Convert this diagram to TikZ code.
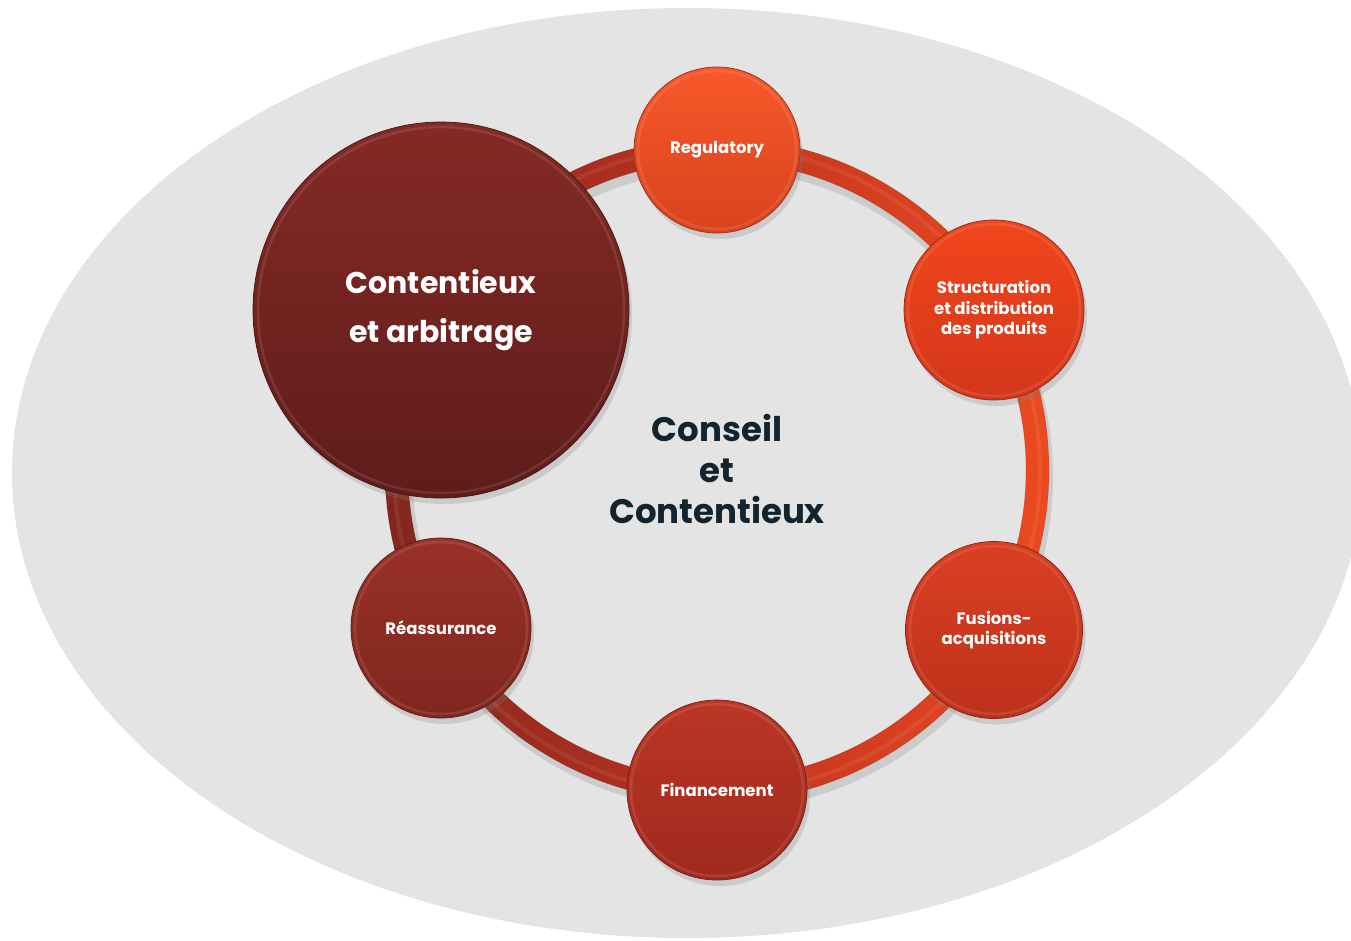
\documentclass[tikz,border=0pt]{standalone}
\usepackage{fontspec}
\setmainfont{Poppins}
\usetikzlibrary{shadows}
\definecolor{bg}{HTML}{E4E4E4}
\definecolor{ringL}{HTML}{82261F}
\definecolor{ringM}{HTML}{C0331F}
\definecolor{ringR}{HTML}{EC4A20}
\definecolor{regT}{HTML}{F8582A}
\definecolor{regB}{HTML}{D8431E}
\definecolor{strT}{HTML}{F2461C}
\definecolor{strB}{HTML}{D3361A}
\definecolor{fusT}{HTML}{DA3F22}
\definecolor{fusB}{HTML}{BD311C}
\definecolor{finT}{HTML}{BB3625}
\definecolor{finB}{HTML}{A0291E}
\definecolor{reaT}{HTML}{993127}
\definecolor{reaB}{HTML}{80261F}
\definecolor{conT}{HTML}{852A25}
\definecolor{conB}{HTML}{5E1C1A}
\definecolor{navy}{HTML}{13242E}
\tikzset{
  ball/.style={circle, inner sep=0pt, text=white, align=center,
    font=\bfseries\fontsize{16.5}{20.5}\selectfont,
    draw=black!30!#1, line width=0.7pt,
    drop shadow={opacity=0.25, shadow xshift=3pt, shadow yshift=-6pt}},
  bevel/.style={draw=white, opacity=0.10, line width=2.5pt},
}
\begin{document}
\begin{tikzpicture}[x=1pt,y=-1pt]
\useasboundingbox (0,0) rectangle (1351,940);
\clip (0,0) rectangle (1351,940);
\fill[white] (0,0) rectangle (1351,940);
\fill[bg] (687,473) ellipse [x radius=675, y radius=465];
% ring shadow
\fill[black, opacity=0.10, even odd rule] (720,477) circle (333) (720,477) circle (307);
% ring
\shade[even odd rule, left color=ringL, right color=ringR, middle color=ringM]
  (717,470) circle (332) (717,470) circle (309);
\draw[white, opacity=0.07, line width=4pt] (717,470) circle (323);
\draw[black, opacity=0.12, line width=0.7pt] (717,470) circle (332);
\draw[black, opacity=0.12, line width=0.7pt] (717,470) circle (309);
% nodes
\node[ball=conB, minimum size=376pt, top color=conT, bottom color=conB,
      font=\bfseries\fontsize{30}{49}\selectfont] (con) at (441,310) {Contentieux\\et arbitrage};
\node[ball=regB, minimum size=166pt, top color=regT, bottom color=regB] (reg) at (717,150) {Regulatory};
\node[ball=strB, minimum size=180pt, top color=strT, bottom color=strB] (str) at (994,310) {Structuration\\et distribution\\des produits};
\node[ball=fusB, minimum size=177pt, top color=fusT, bottom color=fusB] (fus) at (994,630) {Fusions-\\acquisitions};
\node[ball=finB, minimum size=180pt, top color=finT, bottom color=finB] (fin) at (717,790) {Financement};
\node[ball=reaB, minimum size=180pt, top color=reaT, bottom color=reaB] (rea) at (441,628) {Réassurance};
% bevels
\draw[bevel] (con) circle (183);
\draw[bevel] (reg) circle (79);
\draw[bevel] (str) circle (86);
\draw[bevel] (fus) circle (84);
\draw[bevel] (fin) circle (86);
\draw[bevel] (rea) circle (86);
% centre title
\node[text=navy, align=center, font=\bfseries\fontsize{34}{41}\selectfont] (title) at (717,469) {Conseil\\et\\Contentieux};
\end{tikzpicture}
\end{document}
